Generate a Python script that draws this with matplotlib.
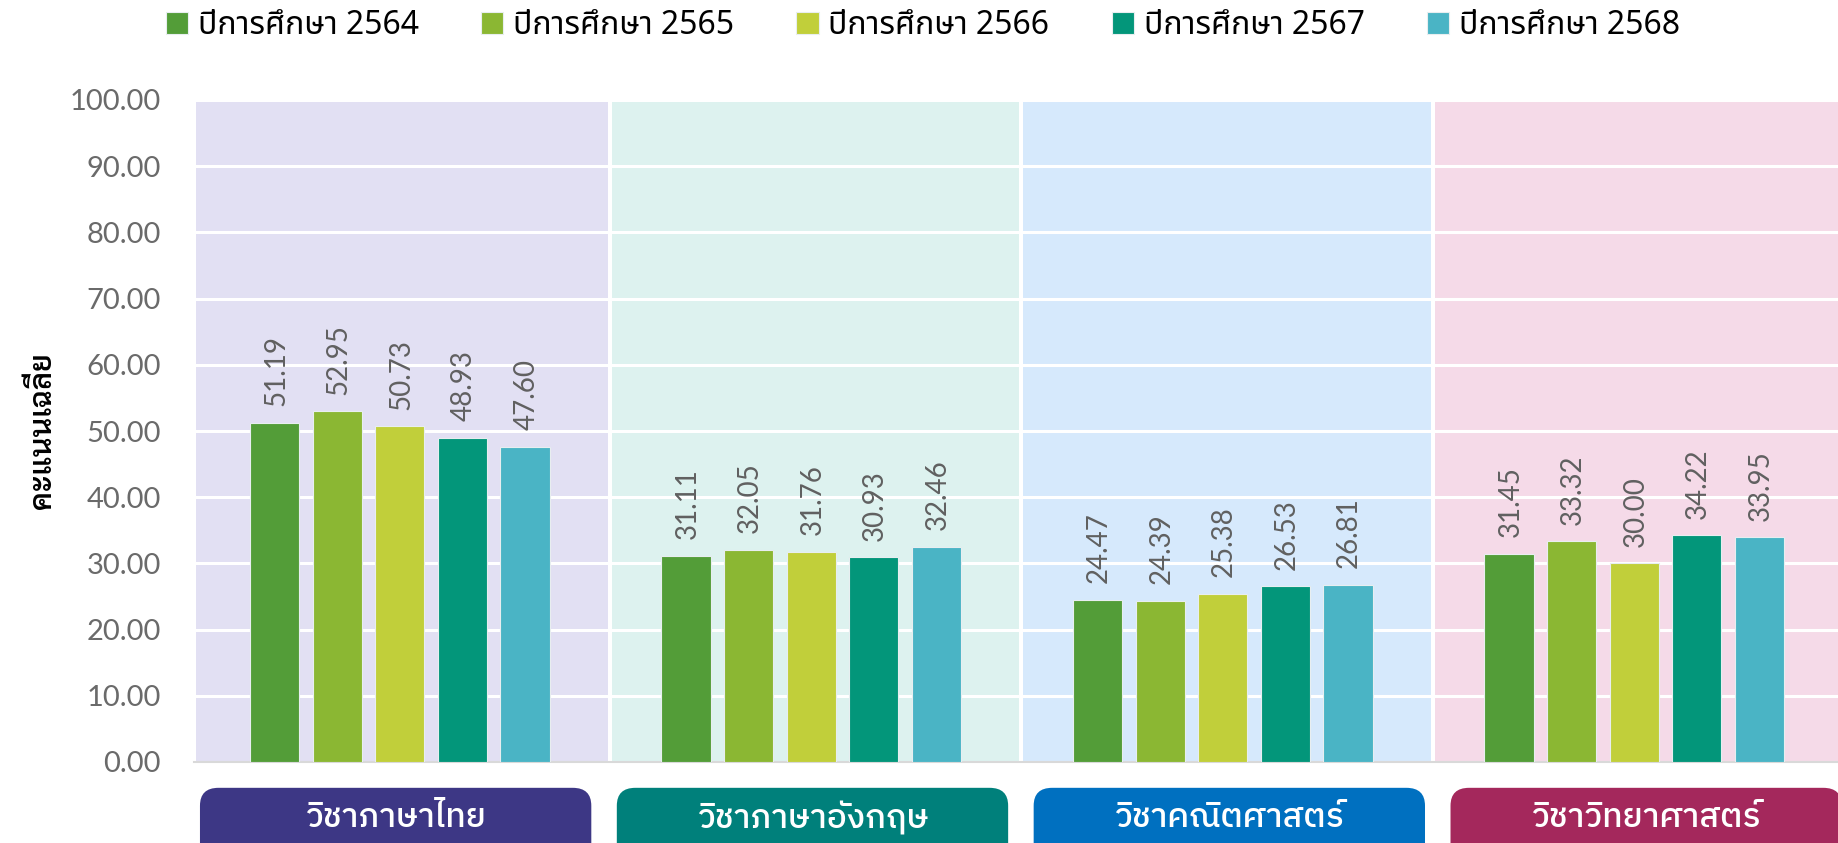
import matplotlib
matplotlib.use("Agg")
import matplotlib.pyplot as plt
from matplotlib.patches import FancyBboxPatch
import numpy as np

# data
subjects = ["วิชาภาษาไทย", "วิชาภาษาอังกฤษ", "วิชาคณิตศาสตร์", "วิชาวิทยาศาสตร์"]
years = ["ปีการศึกษา 2564", "ปีการศึกษา 2565", "ปีการศึกษา 2566", "ปีการศึกษา 2567", "ปีการศึกษา 2568"]
y2564 = [51.19, 31.11, 24.47, 31.45]
y2565 = [52.95, 32.05, 24.39, 33.32]
y2566 = [50.73, 31.76, 25.38, 30.00]
y2567 = [48.93, 30.93, 26.53, 34.22]
y2568 = [47.60, 32.46, 26.81, 33.95]
series = [y2564, y2565, y2566, y2567, y2568]

bar_colors = ["#539D38", "#8BB733", "#C1CF3A", "#03967A", "#4AB4C5"]
panel_colors = ["#E2E0F3", "#DDF2EF", "#D6E9FC", "#F5DAE8"]
box_colors = ["#3D3785", "#00807B", "#0070C0", "#A4285C"]

THAI = ["Noto Sans Thai", "DejaVu Sans"]
THAI_BOX = ["IBM Plex Sans Thai", "Noto Sans Thai", "DejaVu Sans"]
NUM = ["Lato", "DejaVu Sans"]

W, H = 1838, 843
fig = plt.figure(figsize=(W / 100, H / 100), dpi=100)
ax = fig.add_axes([194 / W, 81 / H, 1646 / W, 662 / H])

x = np.arange(len(subjects))
step = 0.152
width = 0.12
ax.set_xlim(-0.5, len(subjects) - 0.5)
ax.set_ylim(0, 100)

# coloured panel per subject (panels sit a touch right of the bar groups)
for i, c in enumerate(panel_colors):
    left = i - 0.5 + 0.015 if i > 0 else -0.494
    ax.axvspan(left, i + 0.5 + 0.005, color=c, lw=0, zorder=0.2)

ax.set_axisbelow(True)
ax.yaxis.grid(True, color="white", lw=2.2)
ax.set_yticks(np.arange(0, 101, 10))
ax.set_yticklabels([f"{v:.2f}" for v in np.arange(0, 101, 10)])

bars = []
for k, (vals, col) in enumerate(zip(series, bar_colors)):
    pos = x + (k - 2) * step
    b = ax.bar(pos, vals, width, color=col, edgecolor="#E8EEF0", lw=0.8, zorder=3, label=years[k])
    bars.append(b)
    for xp, v in zip(pos, vals):
        ax.annotate(f"{v:.2f}", (xp, v), xytext=(1, 12), textcoords="offset points",
                    rotation=90, ha="center", va="bottom", fontsize=20,
                    family=NUM, color="#606060")

for s in ["top", "right", "left"]:
    ax.spines[s].set_visible(False)
ax.spines["bottom"].set_color("#D9D9D9")
ax.spines["bottom"].set_linewidth(1.5)
ax.tick_params(axis="y", length=0, pad=24, labelsize=21, labelcolor="#6A6A6A")
ax.tick_params(axis="x", length=0, labelbottom=False)
for t in ax.get_yticklabels():
    t.set_family(NUM)

ax.set_ylabel("คะแนนเฉลี่ย", family=["Sarabun", "DejaVu Sans"], fontweight="semibold",
              fontsize=22, color="black")
ax.yaxis.set_label_coords((58 - 194) / 1646, 0.5)

# subject boxes under the axis
for i, (name, c) in enumerate(zip(subjects, box_colors)):
    cx = i * 1.013 - 0.01
    box = FancyBboxPatch((cx - 0.4755, -15.9), 0.951, 12, boxstyle="round,pad=0,rounding_size=0.045",
                         mutation_aspect=60, transform=ax.transData, clip_on=False,
                         facecolor=c, edgecolor="none")
    ax.add_patch(box)
    ax.text(cx, -8.5, name, ha="center", va="center", color="white", fontsize=24,
            family=THAI_BOX, fontweight="medium", clip_on=False)

leg = fig.legend(handles=bars, labels=years, loc="upper left", bbox_to_anchor=(153 / W, 1.004),
                 ncol=5, frameon=False, prop={"family": THAI, "size": 23},
                 handlelength=0.7, handleheight=0.7, handletextpad=0.3, columnspacing=1.95,
                 borderaxespad=0.0)

fig.savefig("out.png", dpi=100)
